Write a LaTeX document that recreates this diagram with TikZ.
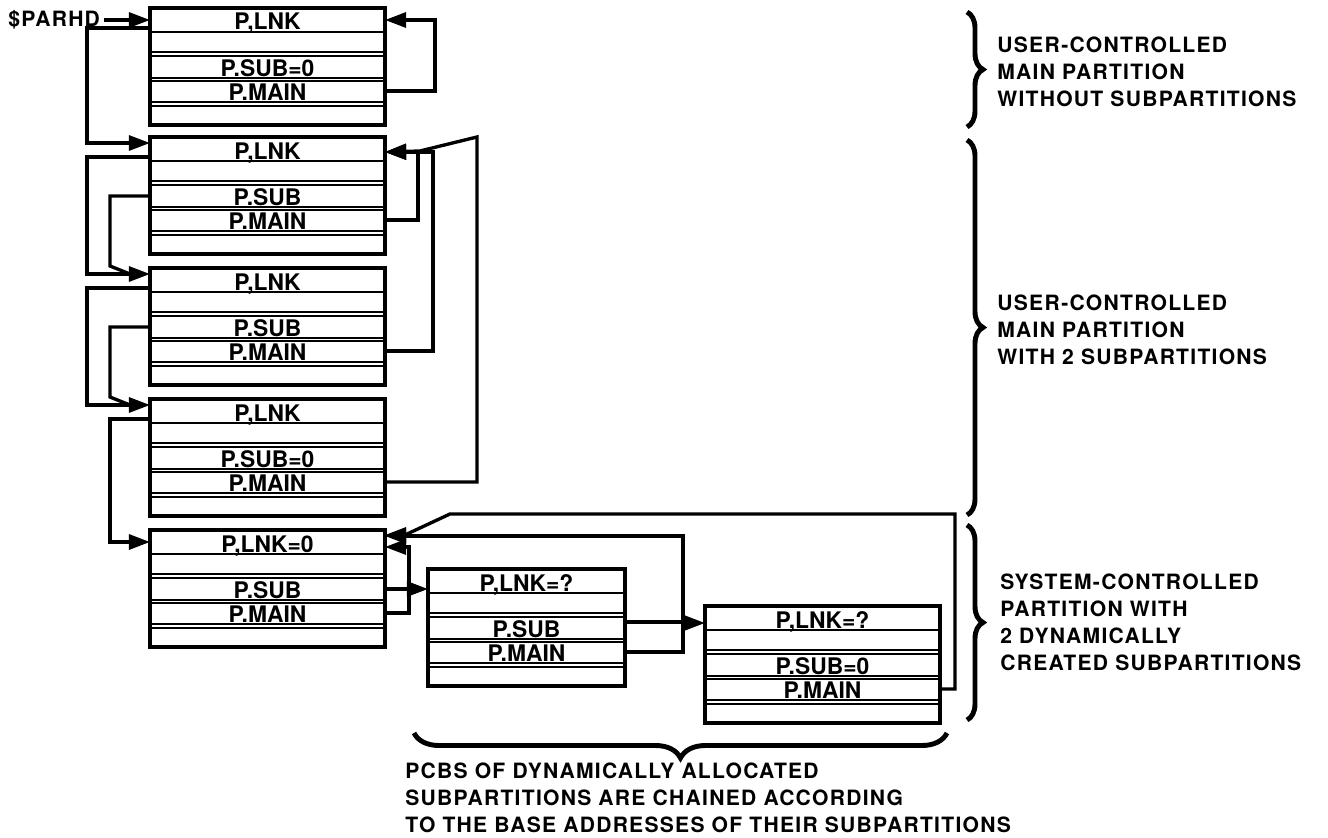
\documentclass[tikz,border=0pt]{standalone}
\usepackage{fontspec}
\setmainfont{TeX Gyre Heros}
\usepackage{tikz}
\usetikzlibrary{calc, arrows.meta, decorations.pathreplacing}

\tikzset{
  pcbbox/.style={draw, line width=1.9pt, minimum height=2.34cm,
    inner sep=0pt, outer sep=0pt},
  rowline/.style={line width=1.6pt},
  rowtext/.style={anchor=base, inner sep=0pt,
    font=\fontsize{13}{14}\selectfont\bfseries},
  link/.style={line width=1.9pt, -{Triangle[length=12pt, width=8.5pt]}},
  wire/.style={line width=1.9pt},
  sidebrace/.style={line width=2.8pt, decorate,
    decoration={brace, amplitude=0.32cm}},
  note/.style={anchor=west, align=left, inner sep=0pt,
    font=\fontsize{12}{15.3}\selectfont\bfseries\addfontfeatures{LetterSpace=6}}
}

% one partition control block: name, x, top, width, link text, sub text
\newcommand{\pcb}[6]{%
  \node[pcbbox, minimum width=#4, anchor=north west] (#1) at (#2,#3) {};
  \foreach \r in {24,44,48,70,73,94,98}
    \draw[rowline] ($(#1.north west)+(0,\r)$) -- ($(#1.north east)+(0,\r)$);
  \node[rowtext] (#1-lnk) at ($(#1.north)+(0,22)$) {#5};
  \node[rowtext] (#1-sub) at ($(#1.north)+(0,68.5)$) {#6};
  \node[rowtext] (#1-main) at ($(#1.north)+(0,92.5)$) {P.MAIN};
  \coordinate (#1-lw) at ($(#1.north west)+(0,20)$);
  \coordinate (#1-sw) at ($(#1.north west)+(0,59)$);
  \coordinate (#1-se) at ($(#1.north east)+(0,59)$);
  \coordinate (#1-me) at ($(#1.north east)+(0,83)$);
}

\begin{document}
\begin{tikzpicture}[x=0.02cm, y=-0.02cm]
  \useasboundingbox (0,0) rectangle (1328,838);

  % main partitions
  \pcb{b1}{150}{8}{4.7cm}{P,LNK}{P.SUB=0}
  \pcb{b2}{150}{137}{4.7cm}{P,LNK}{P.SUB}
  \pcb{b3}{150}{268}{4.7cm}{P,LNK}{P.SUB}
  \pcb{b4}{150}{399}{4.7cm}{P,LNK}{P.SUB=0}
  \pcb{b5}{150}{530}{4.7cm}{P,LNK=0}{P.SUB}
  % dynamic subpartitions
  \pcb{sa}{428}{569}{3.94cm}{P,LNK=?}{P.SUB}
  \pcb{sb}{705}{606}{4.7cm}{P,LNK=?}{P.SUB=0}

  % list head
  \node[note] (parhd) at (8,20) {\$PARHD};
  \draw[link] ([xshift=2pt]parhd.east) -- (parhd.east -| b1.west);

  % left side: link and sub chains
  \draw[link] (b1-lw) -- ++(-63,0) |- ($(b2.north west)+(0,6)$);
  \draw[link] (b2-lw) -- ++(-63,0) |- ($(b3.north west)+(0,6)$);
  \draw[wire] (b2-sw) -| ($(b3.north west)+(-40,-2)$) -- ($(b3.north west)+(-20,6)$);
  \draw[link] (b3-lw) -- ++(-63,0) |- ($(b4.north west)+(0,6)$);
  \draw[wire] (b3-sw) -| ($(b4.north west)+(-40,-2)$) -- ($(b4.north west)+(-20,6)$);
  \draw[link] (b4-lw) -- ++(-40,0) |- ($(b5.north west)+(0,12)$);

  % right side: main pointers
  \draw[link] (b1-me) -- ++(50,0) |- ($(b1.north east)+(0,12)$);
  \draw[link] (b2-me) -- ++(33,0) |- ($(b2.north east)+(0,15)$);
  \draw[link] (b3-me) -- ++(48,0) |- ($(b2.north east)+(0,15)$);
  \draw[link] (b4-me) -| ($(b2.north east)+(92,0)$) -- ($(b2.north east)+(35,14)$)
    -- ($(b2.north east)+(0,15)$);

  % system-controlled partition
  \draw[link] (b5-se) -- (b5-se -| sa.west);
  \draw[link] (b5-me) -- ++(24,0) |- ($(b5.north east)+(0,17)$);
  \draw[link] ($(sa.north east)+(0,53)$) -- ++(58,0) |- ($(sb.north west)+(0,17)$);
  \draw[link] (sa-me) -- ++(58,0) |- ($(b5.north east)+(0,6)$);
  \draw[link] (sb-me) -- ++(15,0) |- ($(b5.north east)+(65,-16)$)
    -- ($(b5.north east)+(20,5)$) -- ($(b5.north east)+(0,5)$);

  % braces and notes
  \draw[sidebrace] (967,12) -- (967,127);
  \draw[sidebrace] (967,140) -- (967,515);
  \draw[sidebrace] (967,525) -- (967,720);
  \draw[sidebrace, decoration={amplitude=0.5cm}] (947,733) -- (414,733);
  \node[note] (userone) at (997,72)
    {USER-CONTROLLED\\MAIN PARTITION\\WITHOUT SUBPARTITIONS};
  \node[note] (usertwo) at (997,330)
    {USER-CONTROLLED\\MAIN PARTITION\\WITH 2 SUBPARTITIONS};
  \node[note] (system) at (1000,622)
    {SYSTEM-CONTROLLED\\PARTITION WITH\\2 DYNAMICALLY\\CREATED SUBPARTITIONS};
  \node[note] (chained) at (405,798)
    {PCBS OF DYNAMICALLY ALLOCATED\\SUBPARTITIONS ARE CHAINED ACCORDING\\TO THE BASE ADDRESSES OF THEIR SUBPARTITIONS};
\end{tikzpicture}
\end{document}
